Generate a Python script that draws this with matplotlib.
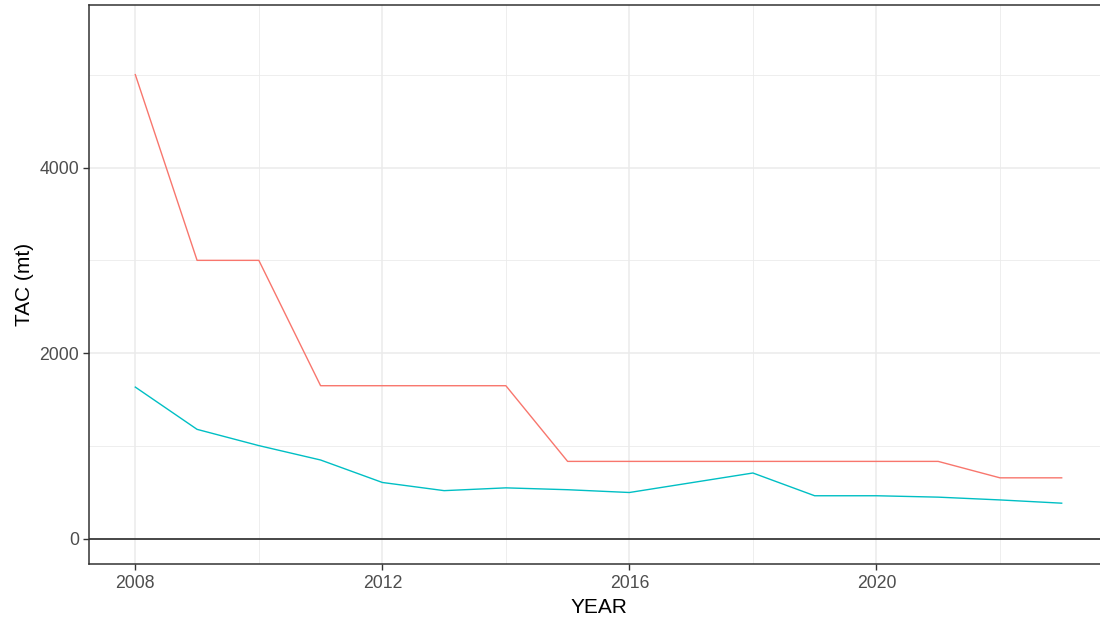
import matplotlib.pyplot as plt
from matplotlib.ticker import MultipleLocator

plt.rcParams['font.family'] = ['Liberation Sans', 'DejaVu Sans']

years = list(range(2008, 2024))
tac_red = [5000, 3000, 3000, 1650, 1650, 1650, 1650, 835,
           835, 835, 835, 835, 835, 835, 658, 658]
tac_cyan = [1635, 1180, 1005, 850, 608, 520, 550, 530,
            500, 605, 710, 465, 465, 450, 420, 385]

fig = plt.figure(figsize=(11, 6.21), dpi=100)
ax = fig.add_axes([89 / 1100, 57 / 621, 1019 / 1100, 559 / 621])

ax.plot(years, tac_red, color='#F8766D', lw=1.0, zorder=3)
ax.plot(years, tac_cyan, color='#00BFC4', lw=1.0, zorder=3)
ax.axhline(0, color='#1a1a1a', lw=1.1, zorder=2)

ax.set_xlim(2007.25, 2023.75)
ax.set_ylim(-270, 5750)

ax.xaxis.set_major_locator(MultipleLocator(4))
ax.xaxis.set_minor_locator(MultipleLocator(2))
ax.yaxis.set_major_locator(MultipleLocator(2000))
ax.yaxis.set_minor_locator(MultipleLocator(1000))
ax.grid(which='major', color='#EBEBEB', lw=1.1)
ax.grid(which='minor', color='#EBEBEB', lw=0.6)
ax.set_axisbelow(True)
ax.tick_params(which='minor', length=0)
ax.tick_params(which='major', length=4, width=1, color='#333333',
               labelcolor='#4D4D4D', labelsize=12.7, pad=4)
ax.tick_params(axis='y', pad=3)

for s in ax.spines.values():
    s.set_color('#333333')
    s.set_linewidth(1.1)

ax.set_xlabel('YEAR', fontsize=15, color='black', labelpad=4)
ax.set_ylabel('TAC (mt)', fontsize=15, color='black', labelpad=4)

fig.savefig('out.png', dpi=100)
